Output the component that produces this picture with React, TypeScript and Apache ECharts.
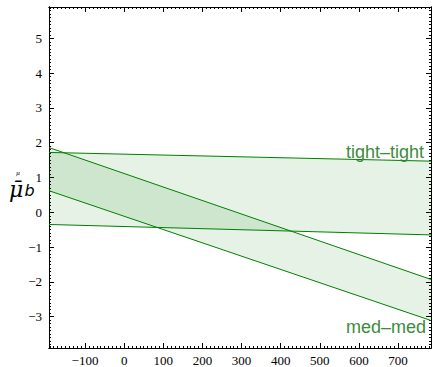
import React, { useEffect, useRef } from "react";
import * as echarts from "echarts";

// ---- data ----
const bandX = [-192, 784];
const tightUpper = [1.72, 1.47];
const tightLower = [-0.35, -0.65];
const medUpper = [1.86, -1.93];
const medLower = [0.62, -3.11];
const xTicks = [-100, 0, 100, 200, 300, 400, 500, 600, 700];
const yTicks = [-3, -2, -1, 0, 1, 2, 3, 4, 5];
const xRange = [-192, 784];
const yRange = [-3.9, 5.9];
const bandNames = ["tight–tight", "med–med"];

const GREEN = "#008000";

function minorValues(lo: number, hi: number, step: number): number[] {
  const out: number[] = [];
  const start = Math.ceil(lo / step - 1e-9);
  const end = Math.floor(hi / step + 1e-9);
  for (let i = start; i <= end; i++) out.push(Math.round(i * step * 1000) / 1000);
  return out;
}

const fmt = (v: number) => String(v).replace("-", "\u2212");

export default function App() {
  const ref = useRef<HTMLDivElement>(null);
  useEffect(() => {
    if (!ref.current) return;
    const chart = echarts.init(ref.current, undefined, { renderer: "svg" });
    const xMinor = minorValues(xRange[0], xRange[1], 10);
    const yMinor = minorValues(yRange[0], yRange[1], 0.1);
    const labelStyle = {
      fontFamily: "'Liberation Serif', 'DejaVu Serif', serif",
      fontSize: 13,
      color: "#000",
    };
    const mkX = (position: "top" | "bottom", major: boolean, labels: boolean) => ({
      type: "value",
      position,
      min: xRange[0],
      max: xRange[1],
      axisLine: { show: true, onZero: false, lineStyle: { color: "#000", width: 1 } },
      axisTick: {
        show: true,
        inside: true,
        length: major ? 5 : 2,
        customValues: major ? xTicks : xMinor,
        lineStyle: { color: "#000", width: 1 },
      },
      axisLabel: labels
        ? { show: true, customValues: xTicks, formatter: fmt, margin: 6, ...labelStyle }
        : { show: false },
      splitLine: { show: false },
    });
    const mkY = (position: "left" | "right", major: boolean, labels: boolean) => ({
      type: "value",
      position,
      min: yRange[0],
      max: yRange[1],
      axisLine: { show: true, onZero: false, lineStyle: { color: "#000", width: 1 } },
      axisTick: {
        show: true,
        inside: true,
        length: major ? 5 : 2,
        customValues: major ? yTicks : yMinor,
        lineStyle: { color: "#000", width: 1 },
      },
      axisLabel: labels
        ? { show: true, customValues: yTicks, formatter: fmt, margin: 7, ...labelStyle }
        : { show: false },
      splitLine: { show: false },
    });

    const bands = [
      { upper: tightUpper, lower: tightLower },
      { upper: medUpper, lower: medLower },
    ];

    const edgeSeries = bands.flatMap((b) =>
      [b.upper, b.lower].map((ys) => ({
        type: "line",
        xAxisIndex: 0,
        yAxisIndex: 0,
        data: [
          [bandX[0], ys[0]],
          [bandX[1], ys[1]],
        ],
        showSymbol: false,
        symbol: "none",
        lineStyle: { color: GREEN, width: 1 },
        z: 3,
        silent: true,
      }))
    );

    chart.setOption({
      animation: false,
      grid: { left: 49, right: 2, top: 7, bottom: 17, containLabel: false },
      xAxis: [mkX("bottom", true, true), mkX("bottom", false, false), mkX("top", true, false), mkX("top", false, false)],
      yAxis: [mkY("left", true, true), mkY("left", false, false), mkY("right", true, false), mkY("right", false, false)],
      series: [
        {
          type: "custom",
          xAxisIndex: 0,
          yAxisIndex: 0,
          clip: true,
          z: 2,
          data: bands.map((b) => [bandX[0], b.upper[0], b.lower[0], bandX[1], b.upper[1], b.lower[1]]),
          renderItem: (params: any, api: any) => {
            const x0 = api.value(0), u0 = api.value(1), l0 = api.value(2);
            const x1 = api.value(3), u1 = api.value(4), l1 = api.value(5);
            const pts = [api.coord([x0, u0]), api.coord([x1, u1]), api.coord([x1, l1]), api.coord([x0, l0])];
            return {
              type: "polygon",
              shape: { points: pts },
              style: { fill: "rgba(0,128,0,0.1)", stroke: "none" },
            };
          },
        },
        ...edgeSeries,
      ],
      graphic: [
        {
          type: "text",
          x: 424,
          y: 152,
          style: {
            text: bandNames[0],
            fill: "#3c8c3c",
            font: "18px 'Liberation Sans'",
            align: "right",
            verticalAlign: "middle",
          },
          z: 10,
        },
        {
          type: "text",
          x: 426,
          y: 327,
          style: {
            text: bandNames[1],
            fill: "#3c8c3c",
            font: "18px 'Liberation Sans'",
            align: "right",
            verticalAlign: "middle",
          },
          z: 10,
        },
        {
          type: "text",
          x: 9,
          y: 197,
          style: {
            text: "μ\u0304",
            fill: "#000",
            font: "italic 22px 'DejaVu Serif'",
            lineHeight: 16,
            verticalAlign: "bottom",
          },
        },
        {
          type: "text",
          x: 24.5,
          y: 196,
          style: {
            text: "b",
            fill: "#000",
            font: "italic 16px 'DejaVu Sans'",
            lineHeight: 12,
            verticalAlign: "bottom",
          },
        },
        {
          type: "text",
          x: 16,
          y: 175,
          style: {
            text: "μ",
            fill: "#000",
            font: "italic 6px 'DejaVu Serif'",
            lineHeight: 5,
            verticalAlign: "bottom",
          },
        },
      ],
    });
    return () => chart.dispose();
  }, []);
  return (
    <div
      ref={ref}
      style={{ position: "absolute", left: 0, top: 0, width: 433, height: 367 }}
    />
  );
}
